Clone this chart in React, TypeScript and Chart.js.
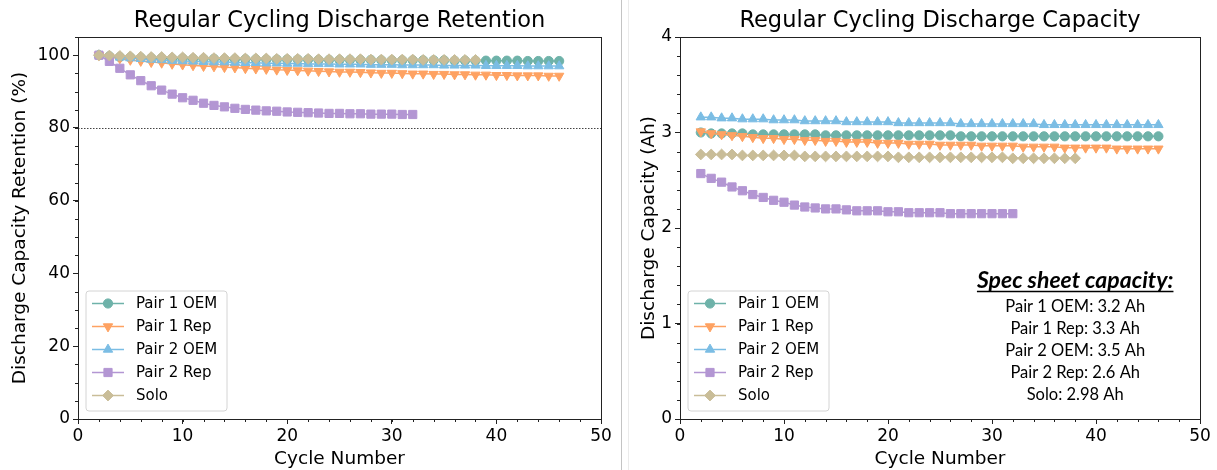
import React, { useEffect, useRef } from 'react';
import { Chart, registerables } from 'chart.js';
import { drawPoint } from 'chart.js/helpers';

Chart.register(...registerables);

// ---------- data ----------
const seriesNames = ['Pair 1 OEM', 'Pair 1 Rep', 'Pair 2 OEM', 'Pair 2 Rep', 'Solo'];

const cyclesTo46 = [2, 3, 4, 5, 6, 7, 8, 9, 10, 11, 12, 13, 14, 15, 16, 17, 18, 19, 20, 21, 22, 23, 24, 25, 26, 27, 28, 29, 30, 31, 32, 33, 34, 35, 36, 37, 38, 39, 40, 41, 42, 43, 44, 45, 46];
const cyclesTo32 = [2, 3, 4, 5, 6, 7, 8, 9, 10, 11, 12, 13, 14, 15, 16, 17, 18, 19, 20, 21, 22, 23, 24, 25, 26, 27, 28, 29, 30, 31, 32];
const cyclesTo38 = [2, 3, 4, 5, 6, 7, 8, 9, 10, 11, 12, 13, 14, 15, 16, 17, 18, 19, 20, 21, 22, 23, 24, 25, 26, 27, 28, 29, 30, 31, 32, 33, 34, 35, 36, 37, 38];

// Retention (%)
const pair1OemRetention = [100, 99.7, 99.5, 99.4, 99.3, 99.2, 99.2, 99.1, 99.1, 99.0, 99.0, 99.0, 98.9, 98.9, 98.9, 98.9, 98.8, 98.8, 98.8, 98.8, 98.8, 98.7, 98.7, 98.7, 98.7, 98.7, 98.7, 98.6, 98.6, 98.6, 98.6, 98.6, 98.6, 98.6, 98.5, 98.5, 98.5, 98.5, 98.5, 98.5, 98.5, 98.4, 98.4, 98.4, 98.4];
const pair1RepRetention = [100, 99.5, 99.1, 98.7, 98.4, 98.1, 97.9, 97.6, 97.4, 97.2, 97.0, 96.9, 96.7, 96.6, 96.4, 96.3, 96.2, 96.0, 95.9, 95.8, 95.7, 95.6, 95.5, 95.4, 95.4, 95.3, 95.2, 95.1, 95.1, 95.0, 94.9, 94.9, 94.8, 94.8, 94.7, 94.7, 94.6, 94.6, 94.5, 94.5, 94.4, 94.4, 94.4, 94.3, 94.3];
const pair2OemRetention = [100, 99.7, 99.4, 99.2, 99.0, 98.8, 98.7, 98.5, 98.4, 98.3, 98.2, 98.1, 98.1, 98.0, 97.9, 97.9, 97.8, 97.8, 97.7, 97.7, 97.6, 97.6, 97.6, 97.5, 97.5, 97.5, 97.4, 97.4, 97.4, 97.3, 97.3, 97.3, 97.3, 97.2, 97.2, 97.2, 97.2, 97.1, 97.1, 97.1, 97.1, 97.0, 97.0, 97.0, 97.0];
const pair2RepRetention = [100, 98.3, 96.4, 94.6, 93.0, 91.6, 90.4, 89.3, 88.3, 87.6, 86.8, 86.2, 85.8, 85.4, 85.1, 84.9, 84.7, 84.6, 84.4, 84.3, 84.2, 84.1, 84.0, 84.0, 83.9, 83.9, 83.8, 83.8, 83.8, 83.7, 83.7];
const soloRetention = [100, 99.9, 99.8, 99.7, 99.6, 99.5, 99.5, 99.4, 99.4, 99.3, 99.3, 99.2, 99.2, 99.2, 99.1, 99.1, 99.1, 99.0, 99.0, 99.0, 99.0, 98.9, 98.9, 98.9, 98.9, 98.9, 98.8, 98.8, 98.8, 98.8, 98.8, 98.7, 98.7, 98.7, 98.7, 98.7, 98.7];

// Capacity (Ah)
const pair1OemCapacity = [3.00, 2.99, 2.99, 2.99, 2.99, 2.98, 2.98, 2.98, 2.98, 2.98, 2.98, 2.98, 2.97, 2.97, 2.97, 2.97, 2.97, 2.97, 2.97, 2.97, 2.97, 2.97, 2.97, 2.97, 2.97, 2.96, 2.96, 2.96, 2.96, 2.96, 2.96, 2.96, 2.96, 2.96, 2.96, 2.96, 2.96, 2.96, 2.96, 2.96, 2.96, 2.96, 2.96, 2.96, 2.96];
const pair1RepCapacity = [3.01, 2.99, 2.98, 2.97, 2.96, 2.95, 2.94, 2.94, 2.93, 2.93, 2.92, 2.92, 2.91, 2.91, 2.90, 2.90, 2.90, 2.89, 2.89, 2.89, 2.88, 2.88, 2.88, 2.87, 2.87, 2.87, 2.87, 2.86, 2.86, 2.86, 2.86, 2.85, 2.85, 2.85, 2.85, 2.84, 2.84, 2.84, 2.84, 2.84, 2.83, 2.83, 2.83, 2.83, 2.83];
const pair2OemCapacity = [3.16, 3.16, 3.15, 3.15, 3.14, 3.14, 3.14, 3.13, 3.13, 3.13, 3.12, 3.12, 3.12, 3.12, 3.11, 3.11, 3.11, 3.11, 3.11, 3.10, 3.10, 3.10, 3.10, 3.10, 3.10, 3.09, 3.09, 3.09, 3.09, 3.09, 3.09, 3.09, 3.09, 3.08, 3.08, 3.08, 3.08, 3.08, 3.08, 3.08, 3.08, 3.08, 3.08, 3.08, 3.08];
const pair2RepCapacity = [2.57, 2.52, 2.48, 2.43, 2.39, 2.35, 2.32, 2.29, 2.27, 2.24, 2.22, 2.21, 2.20, 2.20, 2.19, 2.18, 2.18, 2.18, 2.17, 2.17, 2.16, 2.16, 2.16, 2.16, 2.15, 2.15, 2.15, 2.15, 2.15, 2.15, 2.15];
const soloCapacity = [2.77, 2.77, 2.77, 2.77, 2.76, 2.76, 2.76, 2.76, 2.76, 2.76, 2.75, 2.75, 2.75, 2.75, 2.75, 2.75, 2.75, 2.75, 2.75, 2.74, 2.74, 2.74, 2.74, 2.74, 2.74, 2.74, 2.74, 2.74, 2.74, 2.74, 2.73, 2.73, 2.73, 2.73, 2.73, 2.73, 2.73];

const seriesCycles = [cyclesTo46, cyclesTo46, cyclesTo46, cyclesTo32, cyclesTo38];
const retentionSeries = [pair1OemRetention, pair1RepRetention, pair2OemRetention, pair2RepRetention, soloRetention];
const capacitySeries = [pair1OemCapacity, pair1RepCapacity, pair2OemCapacity, pair2RepCapacity, soloCapacity];

const xTickValues = [0, 10, 20, 30, 40, 50];
const retentionTickValues = [0, 20, 40, 60, 80, 100];
const capacityTickValues = [0, 1, 2, 3, 4];
const retentionThreshold = 80;

const specSheetTitle = 'Spec sheet capacity:';
const specSheetLines = ['Pair 1 OEM: 3.2 Ah', 'Pair 1 Rep: 3.3 Ah', 'Pair 2 OEM: 3.5 Ah', 'Pair 2 Rep: 2.6 Ah', 'Solo: 2.98 Ah'];

// ---------- styles ----------
const seriesColors = ['#6eb2a9', '#fea262', '#7bbde4', '#b396d3', '#c9bd98'];
const seriesPointStyles = ['circle', 'triangle', 'triangle', 'rect', 'rectRot'];
const seriesPointRotations = [0, 180, 0, 0, 0];
const seriesPointRadii = [4.6, 5.4, 5.4, 5.8, 5.4];

const FONT = "'DejaVu Sans', sans-serif";
const CANVAS_H = 470;

const decorPlugin = {
  id: 'decor',
  beforeDatasetsDraw(chart: any, _a: any, opts: any) {
    if (opts.threshold == null) return;
    const { ctx, chartArea: a, scales } = chart;
    const y = Math.round(scales.y.getPixelForValue(opts.threshold)) + 0.5;
    ctx.save();
    ctx.strokeStyle = '#444';
    ctx.lineWidth = 1;
    ctx.setLineDash([1.5, 1.5]);
    ctx.beginPath();
    ctx.moveTo(a.left, y);
    ctx.lineTo(a.right, y);
    ctx.stroke();
    ctx.restore();
  },
  afterDraw(chart: any, _a: any, opts: any) {
    const { ctx, chartArea: a, scales } = chart;
    ctx.save();
    // frame
    ctx.strokeStyle = '#222';
    ctx.lineWidth = 1;
    ctx.strokeRect(Math.round(a.left) + 0.5, Math.round(a.top) + 0.5, Math.round(a.right - a.left), Math.round(a.bottom - a.top));
    // minor ticks
    ctx.beginPath();
    const xs = scales.x;
    for (let v = xs.min; v <= xs.max + 1e-9; v += opts.xMinor) {
      const px = Math.round(xs.getPixelForValue(v)) + 0.5;
      ctx.moveTo(px, a.bottom);
      ctx.lineTo(px, a.bottom + 3);
    }
    const ys = scales.y;
    for (let v = ys.min; v <= ys.max + 1e-9; v += opts.yMinor) {
      const py = Math.round(ys.getPixelForValue(v)) + 0.5;
      ctx.moveTo(a.left, py);
      ctx.lineTo(a.left - 3, py);
    }
    ctx.stroke();

    // title
    ctx.fillStyle = '#000';
    ctx.font = `22.5px ${FONT}`;
    ctx.textAlign = 'center';
    ctx.textBaseline = 'middle';
    ctx.fillText(opts.title, (a.left + a.right) / 2, 21);

    // legend
    const lx = a.left + 8;
    const lw = 141;
    const lh = 120;
    const ly = a.bottom - 8 - lh;
    ctx.beginPath();
    const r = 3;
    ctx.moveTo(lx + r, ly);
    ctx.arcTo(lx + lw, ly, lx + lw, ly + lh, r);
    ctx.arcTo(lx + lw, ly + lh, lx, ly + lh, r);
    ctx.arcTo(lx, ly + lh, lx, ly, r);
    ctx.arcTo(lx, ly, lx + lw, ly, r);
    ctx.closePath();
    ctx.fillStyle = 'rgba(255,255,255,0.8)';
    ctx.fill();
    ctx.strokeStyle = '#d4d4d4';
    ctx.stroke();
    chart.data.datasets.forEach((ds: any, i: number) => {
      const cy = ly + 12.5 + i * 23;
      ctx.strokeStyle = ds.borderColor;
      ctx.lineWidth = 1.5;
      ctx.beginPath();
      ctx.moveTo(lx + 6, cy);
      ctx.lineTo(lx + 38, cy);
      ctx.stroke();
      ctx.fillStyle = ds.backgroundColor;
      ctx.strokeStyle = ds.borderColor;
      ctx.lineWidth = 1;
      drawPoint(ctx, { pointStyle: ds.pointStyle, rotation: ds.pointRotation, radius: ds.pointRadius, borderWidth: 1 } as any, lx + 22, cy);
      ctx.fillStyle = '#000';
      ctx.font = `15px ${FONT}`;
      ctx.textAlign = 'left';
      ctx.textBaseline = 'middle';
      ctx.fillText(ds.label, lx + 50, cy + 1);
    });

    // annotation
    if (opts.noteTitle) {
      const cx = a.left + (a.right - a.left) * 0.76;
      const ty = a.top + 244;
      ctx.fillStyle = '#000';
      ctx.textAlign = 'center';
      ctx.textBaseline = 'middle';
      ctx.font = `italic bold 23px Lato, sans-serif`;
      ctx.fillText(opts.noteTitle, cx, ty);
      const w = ctx.measureText(opts.noteTitle).width;
      ctx.strokeStyle = '#000';
      ctx.lineWidth = 1.4;
      ctx.beginPath();
      ctx.moveTo(cx - w / 2, ty + 10.5);
      ctx.lineTo(cx + w / 2, ty + 10.5);
      ctx.stroke();
      ctx.font = `16.5px Lato, sans-serif`;
      opts.noteLines.forEach((t: string, i: number) => {
        ctx.fillText(t, cx, ty + 25.5 + i * 22.1);
      });
    }
    ctx.restore();
  },
};

function makeConfig(kind: 'retention' | 'capacity') {
  const isRet = kind === 'retention';
  const values = isRet ? retentionSeries : capacitySeries;
  const datasets = seriesNames.map((name, i) => ({
    label: name,
    data: seriesCycles[i].map((x, j) => ({ x, y: values[i][j] })),
    borderColor: seriesColors[i],
    backgroundColor: seriesColors[i],
    pointBackgroundColor: seriesColors[i],
    pointBorderColor: seriesColors[i],
    borderWidth: 1.5,
    pointStyle: seriesPointStyles[i],
    pointRotation: seriesPointRotations[i],
    pointRadius: seriesPointRadii[i],
    pointBorderWidth: 1,
    order: seriesNames.length - i,
    tension: 0,
  }));
  const yTicks = isRet ? retentionTickValues : capacityTickValues;
  const yAxisWidth = isRet ? 78 : 50;
  return {
    type: 'line',
    data: { datasets },
    options: {
      responsive: false,
      animation: false,
      devicePixelRatio: 1,
      layout: { padding: { top: 37, right: isRet ? 19 : 17, left: 0, bottom: 0 } },
      plugins: {
        legend: { display: false },
        tooltip: { enabled: false },
        title: { display: false },
        decor: {
          title: isRet ? 'Regular Cycling Discharge Retention' : 'Regular Cycling Discharge Capacity',
          threshold: isRet ? retentionThreshold : null,
          xMinor: 2,
          yMinor: isRet ? 5 : 0.2,
          noteTitle: isRet ? null : specSheetTitle,
          noteLines: isRet ? [] : specSheetLines,
        },
      },
      scales: {
        x: {
          type: 'linear',
          min: 0,
          max: 50,
          afterBuildTicks: (s: any) => { s.ticks = xTickValues.map((v) => ({ value: v })); },
          afterFit: (s: any) => { s.height = 51; },
          grid: { drawOnChartArea: false, drawTicks: true, tickLength: 5, color: '#222' },
          border: { display: false },
          ticks: { color: '#000', font: { family: FONT, size: 17 }, padding: 2, maxRotation: 0 },
          title: { display: true, text: 'Cycle Number', color: '#000', font: { family: FONT, size: 18.5 }, padding: { top: 0, bottom: 0 } },
        },
        y: {
          type: 'linear',
          min: 0,
          max: isRet ? 105 : 4,
          afterBuildTicks: (s: any) => { s.ticks = yTicks.map((v) => ({ value: v })); },
          afterFit: (s: any) => { s.width = yAxisWidth; },
          grid: { drawOnChartArea: false, drawTicks: true, tickLength: 5, color: '#222' },
          border: { display: false },
          ticks: { color: '#000', font: { family: FONT, size: 17 }, padding: 3 },
          title: {
            display: true,
            text: isRet ? 'Discharge Capacity Retention (%)' : 'Discharge Capacity (Ah)',
            color: '#000',
            font: { family: FONT, size: 18.5 },
            padding: { top: isRet ? 9 : 8, bottom: 0 },
          },
        },
      },
    },
    plugins: [decorPlugin],
  } as any;
}

function ChartCanvas({ kind, left, width }: { kind: 'retention' | 'capacity'; left: number; width: number }) {
  const ref = useRef<HTMLCanvasElement>(null);
  useEffect(() => {
    const chart = new Chart(ref.current as HTMLCanvasElement, makeConfig(kind));
    return () => chart.destroy();
  }, [kind]);
  return (
    <canvas
      ref={ref}
      width={width}
      height={CANVAS_H}
      style={{ position: 'absolute', left, top: 0, width, height: CANVAS_H }}
    />
  );
}

export default function App() {
  return (
    <div style={{ position: 'fixed', left: 0, top: 0, width: 1217, height: CANVAS_H, background: '#fff', overflow: 'hidden' }}>
      <ChartCanvas kind="retention" left={0} width={620} />
      <div style={{ position: 'absolute', left: 621, top: 0, width: 1, height: CANVAS_H, background: '#c4c4c4' }} />
      <div style={{ position: 'absolute', left: 628, top: 0, width: 1, height: CANVAS_H, background: '#ebebeb' }} />
      <ChartCanvas kind="capacity" left={630} width={587} />
    </div>
  );
}
